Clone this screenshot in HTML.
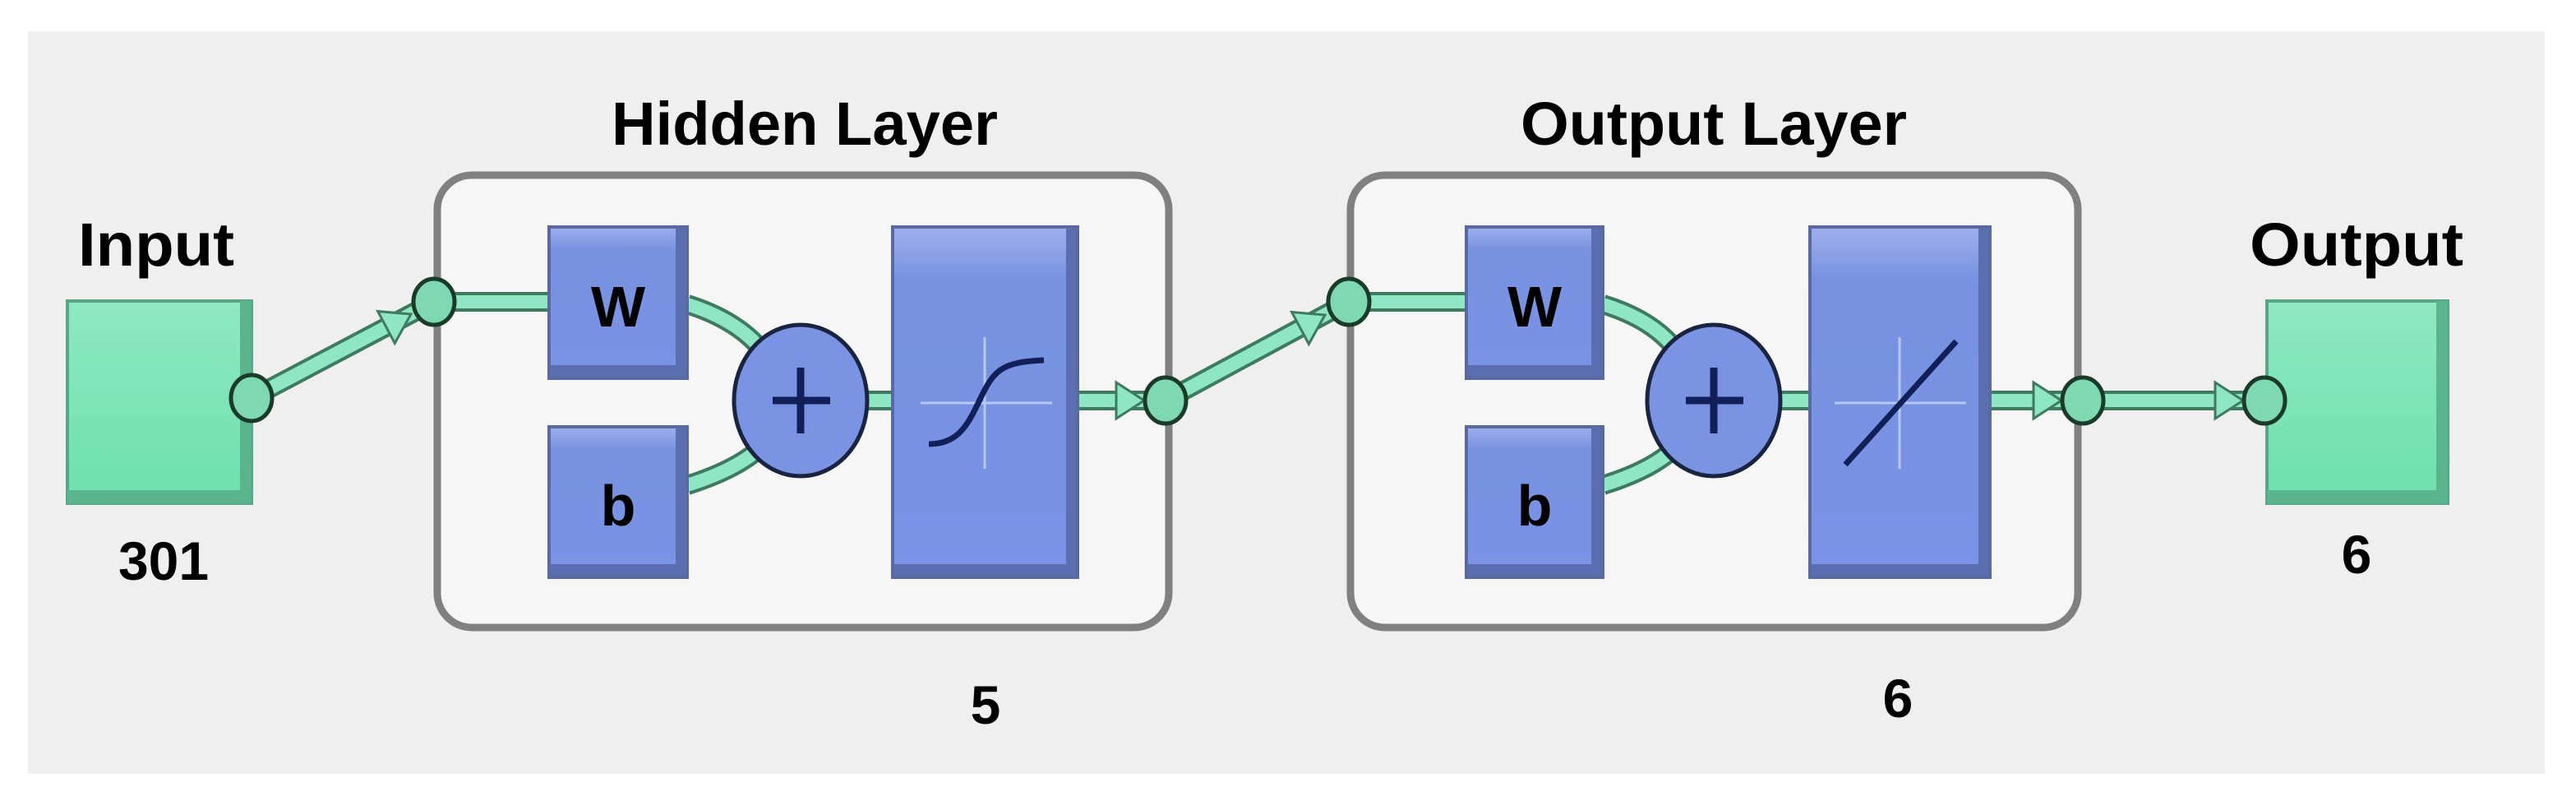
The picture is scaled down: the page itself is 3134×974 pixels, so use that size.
<!DOCTYPE html>
<html><head><meta charset="utf-8"><style>
html,body{margin:0;padding:0;background:#fff;}
svg{display:block;}
text{font-family:"Liberation Sans",sans-serif;font-weight:bold;fill:#000;}
</style></head><body>
<svg width="3134" height="974" viewBox="0 0 3134 974" xmlns="http://www.w3.org/2000/svg">
<defs>
<linearGradient id="bl" x1="0" y1="0" x2="0" y2="1"><stop offset="0" stop-color="#9fb0ec"/><stop offset="0.15" stop-color="#7891e0"/><stop offset="1" stop-color="#7a93e6"/></linearGradient>
<linearGradient id="gr" x1="0" y1="0" x2="0" y2="1"><stop offset="0" stop-color="#8fe8c2"/><stop offset="1" stop-color="#6de0ae"/></linearGradient>
<g id="arrowhead"><polygon points="-34,-22 0,0 -34,22" fill="#8ee6c4" stroke="#3e7a60" stroke-width="3"/></g>
</defs>
<rect x="0" y="0" width="3134" height="974" fill="#fff"/>
<rect x="34" y="38" width="3062" height="903" fill="#efefef"/>

<text x="979" y="176" font-size="74" text-anchor="middle" textLength="470" lengthAdjust="spacingAndGlyphs">Hidden Layer</text>
<text x="2085" y="176" font-size="74" text-anchor="middle" textLength="470" lengthAdjust="spacingAndGlyphs">Output Layer</text>
<text x="190" y="323" font-size="74" text-anchor="middle" textLength="190" lengthAdjust="spacingAndGlyphs">Input</text>
<text x="2867" y="323" font-size="74" text-anchor="middle" textLength="260" lengthAdjust="spacingAndGlyphs">Output</text>
<text x="199" y="705" font-size="66" text-anchor="middle">301</text>
<text x="1199" y="880" font-size="66" text-anchor="middle">5</text>
<text x="2309" y="872" font-size="66" text-anchor="middle">6</text>
<text x="2867" y="697" font-size="66" text-anchor="middle">6</text>

<rect x="532" y="213" width="890" height="550" rx="42" fill="#f6f6f6" stroke="#808080" stroke-width="9"/>
<rect x="1643" y="213" width="885" height="550" rx="42" fill="#f6f6f6" stroke="#808080" stroke-width="9"/>

<rect x="82" y="366" width="224" height="246" fill="url(#gr)" stroke="#5aa688" stroke-width="4"/>
<rect x="82" y="596" width="224" height="16" fill="#5ab58e"/>
<rect x="292" y="366" width="14" height="246" fill="#5ab58e"/>
<rect x="2758" y="366" width="220" height="246" fill="url(#gr)" stroke="#5aa688" stroke-width="4"/>
<rect x="2758" y="596" width="220" height="16" fill="#5ab58e"/>
<rect x="2964" y="366" width="14" height="246" fill="#5ab58e"/>

<g fill="none" stroke-linecap="butt">
<g stroke="#3e7a60" stroke-width="24">
<line x1="306" y1="484" x2="528" y2="367"/>
<line x1="528" y1="367" x2="668" y2="367"/>
<path d="M836 370 Q900 390 930 430"/>
<path d="M836 590 Q900 570 930 540"/>
<line x1="1050" y1="487" x2="1086" y2="487"/>
<line x1="1311" y1="487" x2="1418" y2="487"/>
<line x1="1418" y1="487" x2="1641" y2="367"/>
<line x1="1641" y1="367" x2="1784" y2="367"/>
<path d="M1950 370 Q2015 390 2042 430"/>
<path d="M1950 590 Q2015 570 2042 540"/>
<line x1="2160" y1="487" x2="2202" y2="487"/>
<line x1="2421" y1="487" x2="2753" y2="487"/>
</g>
<g stroke="#8ee6c4" stroke-width="16">
<line x1="306" y1="484" x2="528" y2="367"/>
<line x1="528" y1="367" x2="668" y2="367"/>
<path d="M836 370 Q900 390 930 430"/>
<path d="M836 590 Q900 570 930 540"/>
<line x1="1050" y1="487" x2="1086" y2="487"/>
<line x1="1311" y1="487" x2="1418" y2="487"/>
<line x1="1418" y1="487" x2="1641" y2="367"/>
<line x1="1641" y1="367" x2="1784" y2="367"/>
<path d="M1950 370 Q2015 390 2042 430"/>
<path d="M1950 590 Q2015 570 2042 540"/>
<line x1="2160" y1="487" x2="2202" y2="487"/>
<line x1="2421" y1="487" x2="2753" y2="487"/>
</g>
</g>
<use href="#arrowhead" transform="translate(500,382) rotate(-28)"/>
<use href="#arrowhead" transform="translate(1612,383) rotate(-28)"/>
<use href="#arrowhead" transform="translate(1392,487)"/>
<use href="#arrowhead" transform="translate(2508,487)"/>
<use href="#arrowhead" transform="translate(2729,487)"/>

<g stroke="#5a6aa0" stroke-width="4">
<rect x="668" y="276" width="168" height="184" fill="url(#bl)"/>
<rect x="668" y="519" width="168" height="183" fill="url(#bl)"/>
<rect x="1086" y="276" width="225" height="426" fill="url(#bl)"/>
<rect x="1784" y="276" width="166" height="184" fill="url(#bl)"/>
<rect x="1784" y="519" width="166" height="183" fill="url(#bl)"/>
<rect x="2202" y="276" width="219" height="426" fill="url(#bl)"/>
</g>
<g fill="#5b6fb0">
<rect x="670" y="444" width="164" height="14"/><rect x="822" y="278" width="12" height="180"/>
<rect x="670" y="686" width="164" height="14"/><rect x="822" y="521" width="12" height="179"/>
<rect x="1088" y="686" width="221" height="14"/><rect x="1297" y="278" width="12" height="422"/>
<rect x="1786" y="444" width="162" height="14"/><rect x="1936" y="278" width="12" height="180"/>
<rect x="1786" y="686" width="162" height="14"/><rect x="1936" y="521" width="12" height="179"/>
<rect x="2204" y="686" width="215" height="14"/><rect x="2407" y="278" width="12" height="422"/>
</g>
<text x="752" y="397" font-size="70" text-anchor="middle">W</text>
<text x="752" y="639" font-size="70" text-anchor="middle">b</text>
<text x="1867" y="397" font-size="70" text-anchor="middle">W</text>
<text x="1867" y="639" font-size="70" text-anchor="middle">b</text>

<g stroke="#b8c8f4" stroke-width="3">
<line x1="1120" y1="490" x2="1280" y2="490"/><line x1="1198" y1="410" x2="1198" y2="570"/>
<line x1="2232" y1="490" x2="2392" y2="490"/><line x1="2311" y1="410" x2="2311" y2="570"/>
</g>
<path d="M1130 540 C1170 540 1180 510 1195 480 C1210 450 1220 440 1270 438" fill="none" stroke="#12205a" stroke-width="7"/>
<line x1="2245" y1="565" x2="2380" y2="415" stroke="#12205a" stroke-width="7"/>

<g stroke="#1a2440" stroke-width="5" fill="#7a93e2">
<ellipse cx="974" cy="487" rx="81" ry="92"/>
<ellipse cx="2085" cy="487" rx="81" ry="92"/>
</g>
<g stroke="#12205a" stroke-width="9">
<line x1="940" y1="487" x2="1010" y2="487"/><line x1="974" y1="447" x2="974" y2="527"/>
<line x1="2051" y1="487" x2="2121" y2="487"/><line x1="2085" y1="447" x2="2085" y2="527"/>
</g>

<g fill="#7fd8b4" stroke="#1a3a2a" stroke-width="5">
<ellipse cx="306" cy="484" rx="25" ry="28"/>
<ellipse cx="528" cy="367" rx="25" ry="28"/>
<ellipse cx="1418" cy="487" rx="25" ry="28"/>
<ellipse cx="1641" cy="367" rx="25" ry="28"/>
<ellipse cx="2534" cy="487" rx="25" ry="28"/>
<ellipse cx="2755" cy="487" rx="25" ry="28"/>
</g>
</svg>
</body></html>
